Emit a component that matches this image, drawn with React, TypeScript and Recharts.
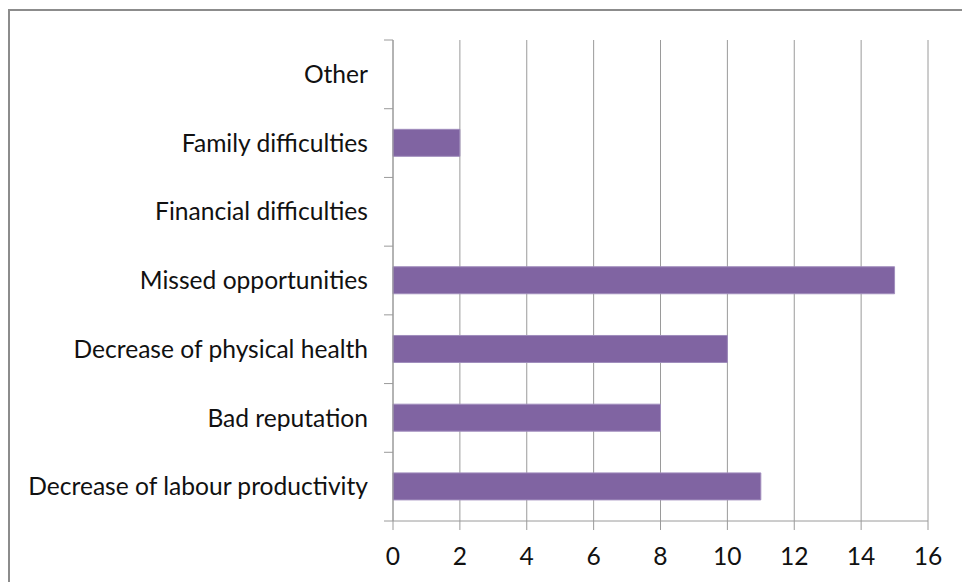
import { BarChart, Bar, XAxis, YAxis, CartesianGrid } from 'recharts'

const categories = [
  'Other',
  'Family difficulties',
  'Financial difficulties',
  'Missed opportunities',
  'Decrease of physical health',
  'Bad reputation',
  'Decrease of labour productivity',
]
const values = [0, 2, 0, 15, 10, 8, 11]
const xTicks = [0, 2, 4, 6, 8, 10, 12, 14, 16]

const data = categories.map((name, i) => ({ name, value: values[i] }))

const FONT = 'Lato, "Noto Sans", sans-serif'
const GRID = '#9a9a9a'

// category ticks sit between bands, like the original spreadsheet chart
function CategoryTick(props: any) {
  const { x, y, payload, index } = props
  const half = payload.offset ?? 0
  const axisX = x + 25
  return (
    <g>
      <line x1={axisX - 9} x2={axisX} y1={y + half} y2={y + half} stroke={GRID} />
      {index === 0 && (
        <line x1={axisX - 9} x2={axisX} y1={y - half} y2={y - half} stroke={GRID} />
      )}
      <text x={x} y={y} dy="0.35em" textAnchor="end" fontSize={24.6} fill="#111" fontFamily={FONT}>
        {payload.value}
      </text>
    </g>
  )
}

export default function App() {
  return (
    <div style={{ position: 'absolute', left: 0, top: 0, width: 962, height: 582, background: '#fff', overflow: 'hidden' }}>
      <div
        style={{
          position: 'absolute',
          left: 8,
          top: 9,
          width: 970,
          height: 600,
          border: '2px solid #8c8c8c',
          boxSizing: 'border-box',
        }}
      />
      <div style={{ position: 'absolute', left: 0, top: 0 }}>
        <BarChart
          width={962}
          height={582}
          data={data}
          layout="vertical"
          barCategoryGap="30%"
          margin={{ top: 40, right: 34, bottom: 0, left: 0 }}
        >
          <CartesianGrid horizontal={false} stroke={GRID} />
          <XAxis
            type="number"
            domain={[0, 16]}
            ticks={xTicks}
            interval={0}
            height={61}
            stroke={GRID}
            tickSize={9}
            tickMargin={18}
            tick={{ fontSize: 24.6, fill: '#111', fontFamily: FONT }}
          />
          <YAxis
            type="category"
            dataKey="name"
            width={393}
            stroke={GRID}
            tickLine={false}
            tick={<CategoryTick />}
            interval={0}
            tickMargin={0}
            tickSize={25}
          />
          <Bar dataKey="value" fill="#8064A2" stroke="#a08dbd" strokeWidth={1} isAnimationActive={false} />
        </BarChart>
      </div>
    </div>
  )
}
